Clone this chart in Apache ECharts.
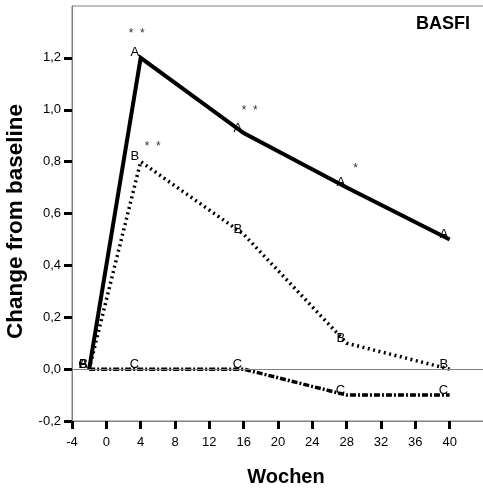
<!DOCTYPE html>
<html>
<head>
<meta charset="utf-8">
<script src="https://cdn.jsdelivr.net/npm/echarts@6/dist/echarts.min.js"></script>
<style>
  html, body { margin: 0; padding: 0; background: #fff; }
  #chart { width: 483px; height: 489px; }
</style>
</head>
<body>
<div id="chart"></div>
<script>
// BASFI: mean change from baseline per group over the study weeks
const weeks = [-2, 4, 16, 28, 40];
const groupA = [0, 1.2, 0.91, 0.7, 0.5];
const groupB = [0, 0.8, 0.52, 0.1, 0];
const groupC = [0, 0, 0, -0.1, -0.1];

// significance markers versus baseline
const signifA = ['', '**', '**', '*', ''];
const signifB = ['', '**', '', '', ''];

const xTicks = [-4, 0, 4, 8, 12, 16, 20, 24, 28, 32, 36, 40];
const yTicks = [-0.2, 0, 0.2, 0.4, 0.6, 0.8, 1.0, 1.2];

const FONT = '"Liberation Sans", Arial, sans-serif';

// where each significance marker sits relative to its point (px)
const starShiftA = [[0, 0], [-4, -24], [6, -22], [9, -19], [0, 0]];
const starShiftB = [[0, 0], [12, -15], [0, 0], [0, 0], [0, 0]];

function pairs(values) {
  return weeks.map((w, i) => [w, values[i]]);
}

function starMarks(values, marks, shifts) {
  const data = [];
  marks.forEach((m, i) => {
    if (!m) return;
    data.push({
      coord: [weeks[i], values[i]],
      value: m,
      label: { offset: shifts[i] }
    });
  });
  return {
    symbol: 'circle',
    symbolSize: 1,
    silent: true,
    itemStyle: { color: 'rgba(0,0,0,0)' },
    label: {
      show: true,
      position: 'inside',
      // asterisks are set a little apart
      formatter: p => String(p.value).split('').join('  '),
      color: '#333',
      fontFamily: FONT,
      fontSize: 12
    },
    data: data
  };
}

function groupSeries(name, values, lineType, width, extra) {
  return Object.assign({
    name: name,
    type: 'line',
    data: pairs(values),
    symbol: 'circle',
    symbolSize: 1,
    showSymbol: true,
    itemStyle: { color: 'rgba(0,0,0,0)' },
    lineStyle: { color: '#000', width: width, type: lineType, cap: 'butt', join: 'miter' },
    label: {
      show: true,
      position: 'left',
      distance: 1,
      offset: [0, -5],
      formatter: () => name,
      color: '#000',
      fontFamily: FONT,
      fontSize: 13
    },
    emphasis: { disabled: true }
  }, extra || {});
}

const chart = echarts.init(document.getElementById('chart'), null, { renderer: 'canvas' });

chart.setOption({
  animation: false,
  backgroundColor: '#fff',
  title: {
    text: 'BASFI',
    right: 13,
    top: 15,
    padding: 0,
    textStyle: { fontFamily: FONT, fontSize: 18, fontWeight: 'bold', color: '#000' }
  },
  grid: {
    left: 72,
    right: -1,
    top: 6,
    bottom: 68,
    outerBoundsMode: 'none',
    containLabel: false,
    show: true,
    borderColor: '#808080',
    borderWidth: 1
  },
  xAxis: {
    type: 'value',
    min: -4,
    max: 44,
    interval: 4,
    name: 'Wochen',
    nameLocation: 'middle',
    nameGap: 46,
    nameTextStyle: {
      fontFamily: FONT, fontSize: 20, fontWeight: 'bold', color: '#000',
      padding: [0, 0, 0, 16]
    },
    axisLine: { show: true, onZero: false, lineStyle: { color: '#808080', width: 1 } },
    axisTick: {
      show: true, length: 8, customValues: xTicks,
      lineStyle: { color: '#000', width: 3 }
    },
    axisLabel: {
      customValues: xTicks,
      margin: 15,
      color: '#000',
      fontFamily: FONT,
      fontSize: 13
    },
    splitLine: { show: false }
  },
  yAxis: {
    type: 'value',
    min: -0.2,
    max: 1.4,
    interval: 0.2,
    name: 'Change from baseline',
    nameLocation: 'middle',
    nameGap: 44,
    nameTextStyle: {
      fontFamily: FONT, fontSize: 22.5, fontWeight: 'bold', color: '#000',
      padding: [0, 16, 0, 0]
    },
    axisLine: { show: true, onZero: false, lineStyle: { color: '#808080', width: 1 } },
    axisTick: {
      show: true, length: 8, customValues: yTicks,
      lineStyle: { color: '#000', width: 3 }
    },
    axisLabel: {
      customValues: yTicks,
      margin: 11,
      color: '#000',
      fontFamily: FONT,
      fontSize: 13,
      formatter: v => v.toFixed(1).replace('.', ',')
    },
    splitLine: { show: false }
  },
  series: [
    groupSeries('C', groupC, [6, 2, 2, 2], 3.5, {
      markLine: {
        silent: true,
        symbol: 'none',
        label: { show: false },
        lineStyle: { color: '#808080', width: 1, type: 'solid' },
        data: [{ yAxis: 0 }]
      }
    }),
    groupSeries('B', groupB, [2, 3.5], 3.5, {
      markPoint: starMarks(groupB, signifB, starShiftB)
    }),
    groupSeries('A', groupA, 'solid', 4, {
      markPoint: starMarks(groupA, signifA, starShiftA)
    })
  ]
});
</script>
</body>
</html>
